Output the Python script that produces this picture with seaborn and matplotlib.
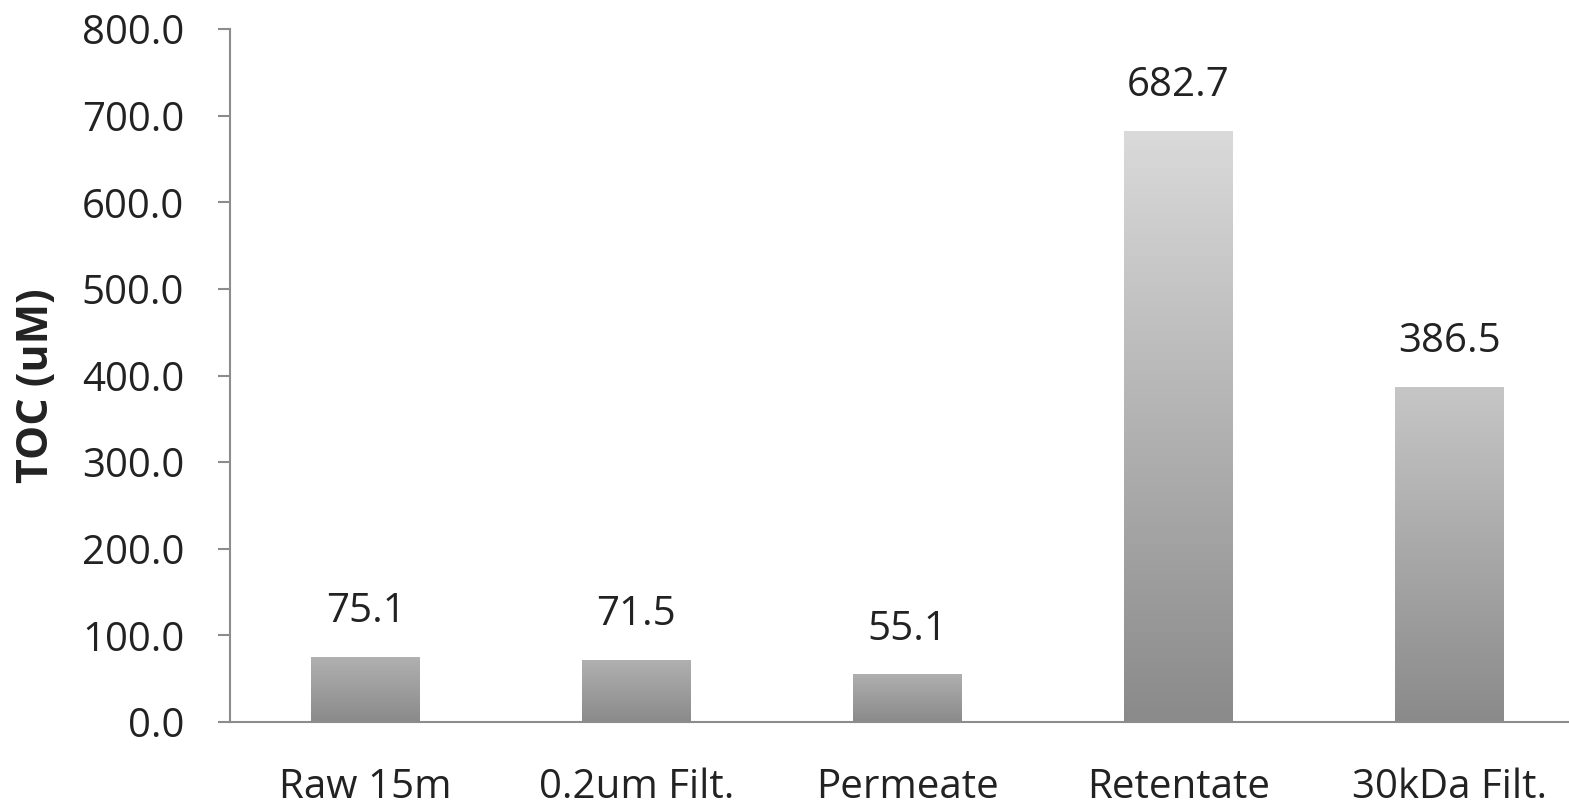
import numpy as np
import pandas as pd
import matplotlib
matplotlib.use("Agg")
import matplotlib.pyplot as plt
import seaborn as sns

categories = ["Raw 15m", "0.2um Filt.", "Permeate", "Retentate", "30kDa Filt."]
toc_values = [75.1, 71.5, 55.1, 682.7, 386.5]
value_labels = ["75.1", "71.5", "55.1", "682.7", "386.5"]
y_ticks = [0, 100, 200, 300, 400, 500, 600, 700, 800]

sns.set_theme(style="white")
plt.rcParams["font.family"] = ["Open Sans", "DejaVu Sans"]

df = pd.DataFrame({"cat": categories, "toc": toc_values})

fig = plt.figure(figsize=(15.69, 8.11), dpi=100)
ax = fig.add_axes([230/1569, 1-722/811, 1355/1569, (722-29)/811])

sns.barplot(data=df, x="cat", y="toc", ax=ax, width=0.4, color="#aaaaaa",
            edgecolor="none", linewidth=0)

# gradient fill clipped to each bar (light top, darker bottom)
grad = np.linspace(0, 1, 256).reshape(-1, 1)
hmax = max(toc_values)
for p in ax.patches:
    x0, w, h = p.get_x(), p.get_width(), p.get_height()
    top_level = 0xac + (0xda - 0xac) * (h / hmax)
    top_hex = "#%02x%02x%02x" % ((int(top_level),) * 3)
    cmap = matplotlib.colors.LinearSegmentedColormap.from_list("g", ["#8a8a8a", top_hex])
    p.set_facecolor("none")
    im = ax.imshow(grad, extent=[x0, x0 + w, 0, h], origin="lower", cmap=cmap,
                   aspect="auto", zorder=2, interpolation="bilinear")
    im.set_clip_path(p)
ax.set_xlim(-0.5, len(categories) - 0.5)
ax.set_ylim(0, 800)

for i, (v, lab) in enumerate(zip(toc_values, value_labels)):
    ax.annotate(lab, (i, v), xytext=(0, 25), textcoords="offset points",
                ha="center", va="baseline", fontsize=29, color="#222222")

ax.set_yticks(y_ticks)
ax.set_yticklabels([f"{t:.1f}" for t in y_ticks], fontsize=29, color="#222222")
ax.set_xticks(range(len(categories)))
ax.set_xticklabels(categories, fontsize=29, color="#222222")
ax.set_xticks(np.arange(-0.5, len(categories) + 0.5, 1), minor=True)

ax.tick_params(axis="x", which="major", length=0, pad=33)
ax.tick_params(axis="x", which="minor", length=11, width=1.5, color="#8c8c8c", direction="out")
ax.tick_params(axis="y", which="major", length=9, width=1.5, color="#8c8c8c", direction="out", left=True, pad=24)

ax.set_xlabel("")
ax.set_ylabel("TOC (uM)", fontsize=31, fontweight="bold", color="#222222")
ax.yaxis.set_label_coords((36 - 230) / 1355, (811 - 386 - 89) / 693)
ax.yaxis.label.set_verticalalignment("center")
ax.yaxis.label.set_horizontalalignment("center")

for s in ["top", "right"]:
    ax.spines[s].set_visible(False)
for s in ["left", "bottom"]:
    ax.spines[s].set_color("#8c8c8c")
    ax.spines[s].set_linewidth(1.5)

fig.savefig("out.png", dpi=100, facecolor="white")
